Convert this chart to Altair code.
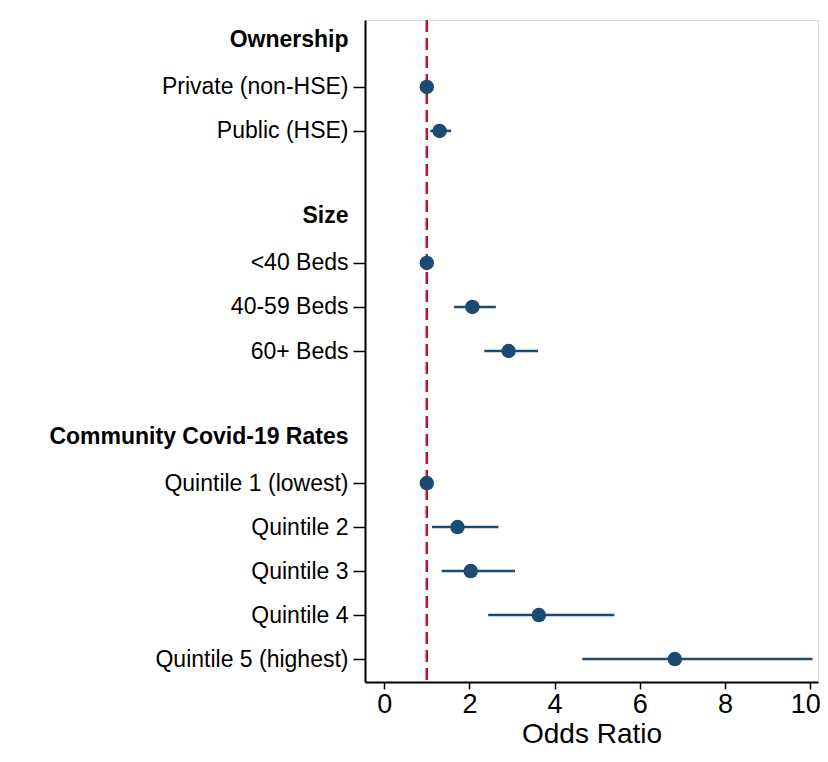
import altair as alt
import pandas as pd

# Row labels, top to bottom (headers and blank spacer rows included)
row_labels = [
    "Ownership", "Private (non-HSE)", "Public (HSE)", "",
    "Size", "<40 Beds", "40-59 Beds", "60+ Beds", "",
    "Community Covid-19 Rates", "Quintile 1 (lowest)", "Quintile 2",
    "Quintile 3", "Quintile 4", "Quintile 5 (highest)",
]
header_rows = [0, 4, 9]

# Data rows
categories = ["Private (non-HSE)", "Public (HSE)", "<40 Beds", "40-59 Beds",
              "60+ Beds", "Quintile 1 (lowest)", "Quintile 2", "Quintile 3",
              "Quintile 4", "Quintile 5 (highest)"]
odds_ratio = [1.0, 1.30, 1.0, 2.07, 2.92, 1.0, 1.72, 2.03, 3.63, 6.82]
ci_low = [1.0, 1.08, 1.0, 1.64, 2.35, 1.0, 1.12, 1.35, 2.44, 4.65]
ci_high = [1.0, 1.57, 1.0, 2.62, 3.61, 1.0, 2.68, 3.07, 5.40, 10.05]
x_ticks = [0, 2, 4, 6, 8, 10]

df = pd.DataFrame({
    "label": categories,
    "row": [row_labels.index(c) for c in categories],
    "or": odds_ratio,
    "lo": ci_low,
    "hi": ci_high,
})

navy = "#1b4a73"
red = "#c8102e"
tick_rows = [i for i, l in enumerate(row_labels) if l != ""]
label_js = "[" + ",".join('"' + l + '"' for l in row_labels) + "]"
header_test = "indexof([" + ",".join(str(h) for h in header_rows) + "], datum.value) >= 0"

x_scale = alt.Scale(domain=[-0.45, 10.18], nice=False, zero=False)
y_scale = alt.Scale(domain=[-0.52, 14.52], reverse=True, nice=False, zero=False)

x_axis = alt.Axis(values=x_ticks, title="Odds Ratio", grid=False, tickSize=7,
                  labelFontSize=27, titleFontSize=28, titleFontWeight="normal",
                  labelPadding=2, titlePadding=3, domainWidth=2, tickWidth=1.5,
                  domainColor="black", tickColor="black", labelColor="black",
                  titleColor="black", labelFlush=False,
                  labelOffset={"condition": {"test": "datum.value == 10", "value": -5}, "value": 0})
y_axis = alt.Axis(values=tick_rows, title=None, grid=False, tickSize=12,
                  labelExpr=label_js + "[datum.value]",
                  labelFontSize=23, labelPadding=5, labelLimit=500,
                  labelFontWeight={"condition": {"test": header_test, "value": "bold"}, "value": "normal"},
                  tickOpacity={"condition": {"test": header_test, "value": 0}, "value": 1},
                  labelOffset={"condition": {"test": header_test, "value": -3}, "value": 0},
                  domainWidth=2, tickWidth=1.5, domainColor="black", tickColor="black",
                  labelColor="black")

base = alt.Chart(df)

ref = alt.Chart(pd.DataFrame({"v": [1.0]})).mark_rule(
    color=red, strokeWidth=2.5, strokeDash=[12, 6]
).encode(x=alt.X("v:Q", scale=x_scale, axis=x_axis))

ci = base.mark_rule(color=navy, strokeWidth=2.5).encode(
    x=alt.X("lo:Q", scale=x_scale, axis=x_axis),
    x2="hi:Q",
    y=alt.Y("row:Q", scale=y_scale, axis=y_axis),
)

pts = base.mark_circle(color=navy, size=210, opacity=1).encode(
    x=alt.X("or:Q", scale=x_scale, axis=x_axis),
    y=alt.Y("row:Q", scale=y_scale, axis=y_axis),
)

chart = alt.layer(ref, ci, pts).properties(
    width=453, height=662,
    autosize=alt.AutoSizeParams(type="none"),
    padding={"left": 357, "top": 12, "right": 2, "bottom": 72},
).configure_view(strokeOpacity=0).configure(font="Liberation Sans")

chart.save("out.html", embed_options={"renderer": "svg", "actions": False})
